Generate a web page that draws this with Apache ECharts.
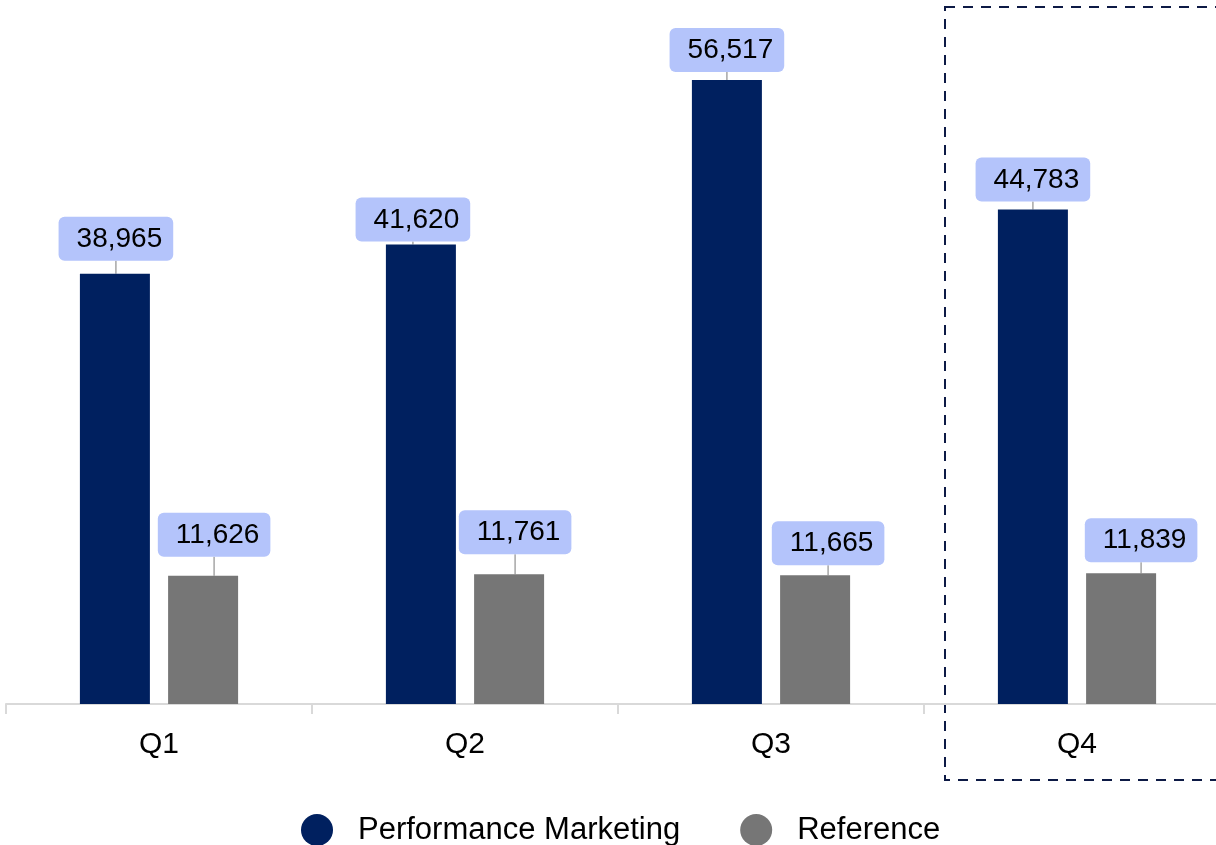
<!DOCTYPE html>
<html>
<head>
<meta charset="utf-8">
<script src="https://cdn.jsdelivr.net/npm/echarts@6/dist/echarts.min.js"></script>
<style>
  html, body { margin: 0; padding: 0; background: #fff; }
  #chart { width: 1216px; height: 845px; }
</style>
</head>
<body>
<div id="chart"></div>
<script>
const quarters = ['Q1', 'Q2', 'Q3', 'Q4'];
const performanceMarketing = [38965, 41620, 56517, 44783];
const reference = [11626, 11761, 11665, 11839];

// label nudges [dx, dy] per bar, so the boxes sit like in the original
const pmLabelShift = [[1, -5], [-8, 5], [0, 0], [0, 0]];
const refLabelShift = [[11, -11], [6, -12], [13, -2], [20, -3]];

const chart = echarts.init(document.getElementById('chart'));

const labelStyle = {
  show: true,
  position: 'top',
  distance: 8,
  fontFamily: 'Liberation Sans, Arial, sans-serif',
  fontSize: 28,
  color: '#000',
  backgroundColor: '#b4c4fb',
  borderRadius: 6,
  padding: [7, 11, 6, 18],
  lineHeight: 31,
  formatter: p => p.value.toLocaleString('en-US')
};

const option = {
  animation: false,
  grid: { left: 6, width: 1224, top: 0, bottom: 141, outerBoundsMode: 'none', containLabel: false },
  legend: {
    left: 296,
    top: 809,
    icon: 'circle',
    itemWidth: 32,
    itemHeight: 32,
    itemGap: 60,
    textStyle: {
      fontFamily: 'Liberation Sans, Arial, sans-serif',
      fontSize: 31,
      color: '#000',
      padding: [0, 0, 0, 20]
    },
    data: ['Performance Marketing', 'Reference']
  },
  xAxis: {
    type: 'category',
    data: quarters,
    axisLine: { lineStyle: { color: '#d9d9d9', width: 2 } },
    axisTick: { show: true, length: 10, lineStyle: { color: '#d9d9d9', width: 2 } },
    axisLabel: {
      margin: 26,
      fontFamily: 'Liberation Sans, Arial, sans-serif',
      fontSize: 30,
      color: '#000'
    }
  },
  yAxis: {
    type: 'value',
    min: 0,
    max: 63760,
    show: false,
    splitLine: { show: false }
  },
  series: [
    {
      name: 'Performance Marketing',
      type: 'bar',
      data: performanceMarketing,
      barWidth: 70,
      barGap: '26%',
      itemStyle: { color: '#00205f' },
      label: labelStyle,
      labelLine: { show: true, lineStyle: { color: '#a6a6a6', width: 1.5 } },
      labelLayout: p => ({ dx: pmLabelShift[p.dataIndex][0], dy: pmLabelShift[p.dataIndex][1] })
    },
    {
      name: 'Reference',
      type: 'bar',
      data: reference,
      barWidth: 70,
      itemStyle: { color: '#767676' },
      label: labelStyle,
      labelLine: { show: true, lineStyle: { color: '#a6a6a6', width: 1.5 } },
      labelLayout: p => ({ dx: refLabelShift[p.dataIndex][0], dy: refLabelShift[p.dataIndex][1] })
    }
  ],
  graphic: [
    {
      type: 'rect',
      shape: { x: 945, y: 7, width: 300, height: 773 },
      style: {
        fill: 'none',
        stroke: '#0d1a45',
        lineWidth: 2,
        lineDash: [10, 8]
      },
      silent: true
    }
  ]
};

chart.setOption(option);
</script>
</body>
</html>
